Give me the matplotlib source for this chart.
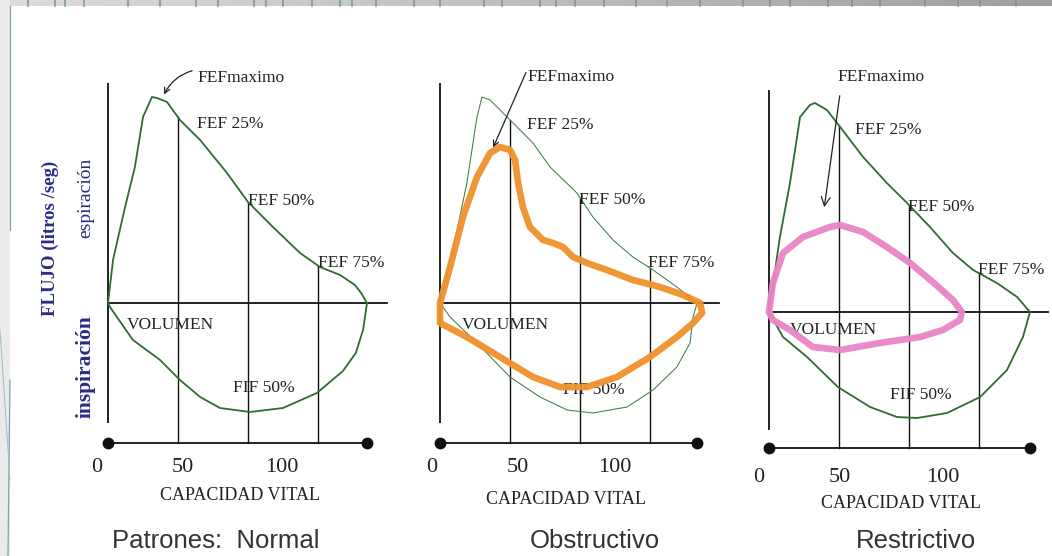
import numpy as np
import matplotlib
matplotlib.use("Agg")
import matplotlib.pyplot as plt
from matplotlib.patches import Rectangle

# ---------------- data (volume in % of capacidad vital, flow in arbitrary L/s units) ----------------
FEF_PCTS = [25, 50, 75]
TICK_LABELS = ["0", "50", "100"]
PANEL_TITLES = ["Patrones:  Normal", "Obstructivo", "Restrictivo"]
XLABEL = "CAPACIDAD VITAL"
YLABEL = "FLUJO (litros /seg)"
EXP_LABEL = "espiración"
INS_LABEL = "inspiración"
FEF_LABELS = ["FEFmaximo", "FEF 25%", "FEF 50%", "FEF 75%", "VOLUMEN", "FIF 50%"]

# Panel 1 - normal loop
P1_EXP_VOL = [0, 1.8, 6.1, 9.6, 12.5, 15.7, 17.5, 21.1, 25.7, 32.9, 42.5, 50, 58.9, 68.6, 75.7, 82.9, 88.2, 90.4, 92.5]
P1_EXP_FLOW = [0, 2.15, 4.8, 6.8, 9.3, 10.3, 10.25, 10.05, 9.15, 8.15, 6.5, 5.05, 3.8, 2.5, 1.8, 1.4, 0.9, 0.5, 0]
P1_INS_VOL = [0, 0.7, 8.9, 18.6, 25.7, 32.9, 40, 50.7, 62.5, 74.6, 83.9, 88.5, 91.1, 92.5]
P1_INS_FLOW = [0, -0.2, -1.85, -2.85, -3.85, -4.7, -5.25, -5.45, -5.25, -4.5, -3.4, -2.5, -1.35, 0]

# Panel 2 - normal reference (thin) + obstructive loop (orange)
P2_NORM_EXP_VOL = [0, 4.6, 9.6, 13.2, 15, 17.9, 25, 33.2, 39.3, 48.9, 54.6, 61.8, 68.9, 76.1, 84.6, 90.4, 91.8]
P2_NORM_EXP_FLOW = [0, 2.65, 6, 9.3, 10.3, 10.15, 9.15, 8, 6.8, 5.5, 4.3, 3.15, 2.3, 1.65, 0.8, 0.15, 0]
P2_NORM_INS_VOL = [0, 3.6, 13.2, 25, 35.7, 45.4, 54.6, 66.8, 76.1, 84.6, 89.3, 90.4, 91.8]
P2_NORM_INS_FLOW = [0, -0.7, -2, -3.7, -4.7, -5.35, -5.5, -5.2, -4.35, -3.2, -2, -0.7, 0]
OBS_VOL = [0, 3.6, 8.2, 13.2, 17.9, 21.4, 25, 26.8, 27.9, 29.6, 32.1, 36.8, 40.4, 43.9, 47.5, 52.5,
           59.6, 68.9, 78.6, 86.8, 92.9, 93.6, 90.4, 84.6, 75, 63.2, 52.5, 42.9, 33.2, 21.4, 9.6, 0, 0]
OBS_FLOW = [0, 1.8, 4.3, 6.3, 7.5, 7.8, 7.65, 7.15, 6, 4.8, 3.8, 3.15, 3, 2.8, 2.3, 2,
            1.65, 1.15, 0.8, 0.4, 0, -0.5, -1, -1.7, -2.7, -3.7, -4.2, -4.2, -3.7, -2.7, -1.7, -1, 0]

# Panel 3 - normal reference + restrictive loop (pink)
P3_NORM_EXP_VOL = [0, 3.9, 7.5, 11.1, 14.6, 16.4, 20.7, 25.4, 33.6, 42.1, 49.3, 57.5, 65.7, 72.9, 81.4, 88.6, 93.2]
P3_NORM_EXP_FLOW = [0, 3.75, 6.45, 9.75, 10.35, 10.45, 10.1, 9.25, 7.75, 6.45, 5.45, 4.25, 2.95, 2.1, 1.45, 0.75, 0]
P3_NORM_INS_VOL = [0, 5, 13.6, 24.6, 36.1, 45.7, 52.9, 63.6, 75.4, 85, 90.7, 93.2]
P3_NORM_INS_FLOW = [0, -1.25, -2.25, -3.75, -4.75, -5.25, -5.3, -5.05, -4.25, -2.9, -1.25, 0]
RES_VOL = [0, 1.4, 5, 12.1, 21.8, 25.4, 33.6, 42.1, 50.4, 58.9, 65.7, 68.9, 68.2, 62.1, 53.9, 39.6, 25.4, 15.7, 7.5, 1.4, 0]
RES_FLOW = [0, 1.45, 2.95, 3.75, 4.25, 4.35, 4, 3.25, 2.45, 1.45, 0.6, 0, -0.4, -0.9, -1.25, -1.55, -1.9, -1.75, -0.9, -0.4, 0]

# ---------------- styling / layout ----------------
W, H = 1052, 556
SX, SY = 2.8, 20.0          # pixels per % volume, pixels per flow unit
GREEN = "#2f6a33"
BLACK = "#111111"
TXT = "#222222"
NAVY = "#2b2b86"
SERIF = "Liberation Serif"
SANS = "Liberation Sans"

fig = plt.figure(figsize=(W / 100, H / 100), dpi=100)
fig.patch.set_facecolor("white")

# background decoration (slide frame)
bg = fig.add_axes([0, 0, 1, 1])
bg.axis("off")
grad = np.linspace(0.86, 0.62, 256)[None, :]
bg.imshow(grad, cmap="gray", vmin=0, vmax=1, extent=(0, W, 6, 0), aspect="auto", zorder=0)
for xl in [28, 55, 65, 84, 128, 160, 196, 218, 254, 266, 283, 312, 340, 352, 376, 414, 440, 484,
           502, 540, 556, 575, 604, 636, 667, 700, 743, 770, 790, 828, 852, 880, 925, 958, 980, 1016]:
    bg.plot([xl, xl], [0, 6], color="#6f98a4", lw=1.1, zorder=1)
bg.add_patch(Rectangle((0, 0), 10, H, facecolor="#ebebeb", edgecolor="none", zorder=1))
bg.plot([10, 10], [6, 230], color="#7ea6b0", lw=0.9, zorder=2)
bg.plot([10, 8], [380, H], color="#7ea6b0", lw=0.9, zorder=2)
bg.plot([0, 10], [330, 480], color="#9fbec5", lw=0.7, zorder=2)
bg.set_xlim(0, W)
bg.set_ylim(H, 0)

# y-axis labels (pixel coordinates)
bg.text(50, 238, YLABEL, rotation=90, ha="center", va="center", fontsize=13.5,
        family=SERIF, fontweight="bold", color=NAVY)
bg.text(86, 198, EXP_LABEL, rotation=90, ha="center", va="center", fontsize=14,
        family=SERIF, color=NAVY)
bg.text(86, 367, INS_LABEL, rotation=90, ha="center", va="center", fontsize=15.5,
        family=SERIF, fontweight="bold", color=NAVY)

# titles
for tx, title in zip([216, 595, 916], PANEL_TITLES):
    bg.text(tx, 541, title, ha="center", va="center", fontsize=18.5, family=SANS, color="#333333")


def panel_axes(ox, oy):
    ax = fig.add_axes([0, 0, 1, 1])
    ax.set_xlim(-ox / SX, (W - ox) / SX)
    ax.set_ylim((oy - H) / SY, oy / SY)
    ax.axis("off")
    ax.patch.set_alpha(0)
    return ax


def frame(ax, exp_vol, exp_flow, vtop, vbot, bottom, vend):
    ax.plot([0, 0], [vtop, vbot], color=BLACK, lw=1.3, solid_capstyle="butt", zorder=2)
    ax.plot([0, 99.5], [0, 0], color=BLACK, lw=1.3, zorder=2)
    ax.plot([0, vend], [bottom, bottom], color=BLACK, lw=1.3, zorder=2)
    ax.plot([0, vend], [bottom, bottom], "o", color=BLACK, ms=7.5, zorder=3)
    for p in FEF_PCTS:
        top = np.interp(p, exp_vol, exp_flow)
        ax.plot([p, p], [top, bottom], color=BLACK, lw=1.0, zorder=2)


def labels(ax, pos, tick_x, tick_y, xl_pos):
    for (x, y), lab in zip(pos, FEF_LABELS):
        ax.text(x, y, lab, ha="left", va="center", fontsize=12.5, family=SERIF, color=TXT, zorder=4)
    for x, lab in zip(tick_x, TICK_LABELS):
        ax.text(x, tick_y, lab, ha="center", va="center", fontsize=16, family=SERIF, color=TXT)
    ax.text(xl_pos[0], xl_pos[1], XLABEL, ha="center", va="center", fontsize=13,
            family=SERIF, color=TXT)


# ---------------- Panel 1: Normal ----------------
ax1 = panel_axes(108, 303)
frame(ax1, P1_EXP_VOL, P1_EXP_FLOW, 11.0, -6.0, -7.0, max(P1_EXP_VOL))
ax1.plot(P1_EXP_VOL, P1_EXP_FLOW, color=GREEN, lw=1.3, zorder=3)
ax1.plot(P1_INS_VOL, P1_INS_FLOW, color=GREEN, lw=1.3, zorder=3)
labels(ax1, [(31.8, 11.25), (31.8, 8.95), (50, 5.1), (75, 2.0), (6.8, -1.1), (44.6, -4.25)],
       [-3.9, 26.8, 62.1], -8.25, (47.1, -9.65))
ax1.annotate("", xy=(19.6, 10.3), xytext=(31.0, 11.65),
             arrowprops=dict(arrowstyle="->", connectionstyle="arc3,rad=0.25", lw=0.9, color=TXT,
                             mutation_scale=10))

# ---------------- Panel 2: Obstructivo ----------------
ax2 = panel_axes(440, 303)
frame(ax2, P2_NORM_EXP_VOL, P2_NORM_EXP_FLOW, 11.0, -6.0, -7.0, max(P2_NORM_EXP_VOL))
ax2.plot(P2_NORM_EXP_VOL, P2_NORM_EXP_FLOW, color="#3d7f45", lw=0.75, zorder=3)
ax2.plot(P2_NORM_INS_VOL, P2_NORM_INS_FLOW, color="#3d7f45", lw=0.75, zorder=3)
labels(ax2, [(31.1, 11.3), (31.1, 8.9), (49.6, 5.15), (74.3, 2.0), (7.9, -1.1), (43.9, -4.35)],
       [-2.9, 27.9, 62.5], -8.25, (45.0, -9.8))
ax2.plot(OBS_VOL, OBS_FLOW, color="#f0912b", lw=4.8, solid_joinstyle="round",
         solid_capstyle="round", zorder=5, alpha=0.95)
ax2.annotate("", xy=(18.6, 7.65), xytext=(31.1, 11.65),
             arrowprops=dict(arrowstyle="->", lw=0.9, color=TXT, mutation_scale=10))

# ---------------- Panel 3: Restrictivo ----------------
ax3 = panel_axes(769, 312)
frame(ax3, P3_NORM_EXP_VOL, P3_NORM_EXP_FLOW, 11.1, -5.9, -6.8, max(P3_NORM_EXP_VOL))
ax3.plot(P3_NORM_EXP_VOL, P3_NORM_EXP_FLOW, color=GREEN, lw=1.3, zorder=3)
ax3.plot(P3_NORM_INS_VOL, P3_NORM_INS_FLOW, color=GREEN, lw=1.3, zorder=3)
labels(ax3, [(24.3, 11.75), (30.7, 9.1), (49.6, 5.25), (74.6, 2.1), (7.5, -0.9), (43.2, -4.15)],
       [-3.6, 25.4, 62.1], -8.25, (47.1, -9.6))
ax3.plot(RES_VOL, RES_FLOW, color="#ea84c6", lw=4.8, solid_joinstyle="round",
         solid_capstyle="round", zorder=5, alpha=0.95)
ax3.annotate("", xy=(19.6, 5.1), xytext=(25.4, 10.95),
             arrowprops=dict(arrowstyle="->", lw=0.9, color=TXT, mutation_scale=16))

fig.savefig("out.png", dpi=100, facecolor="white")
